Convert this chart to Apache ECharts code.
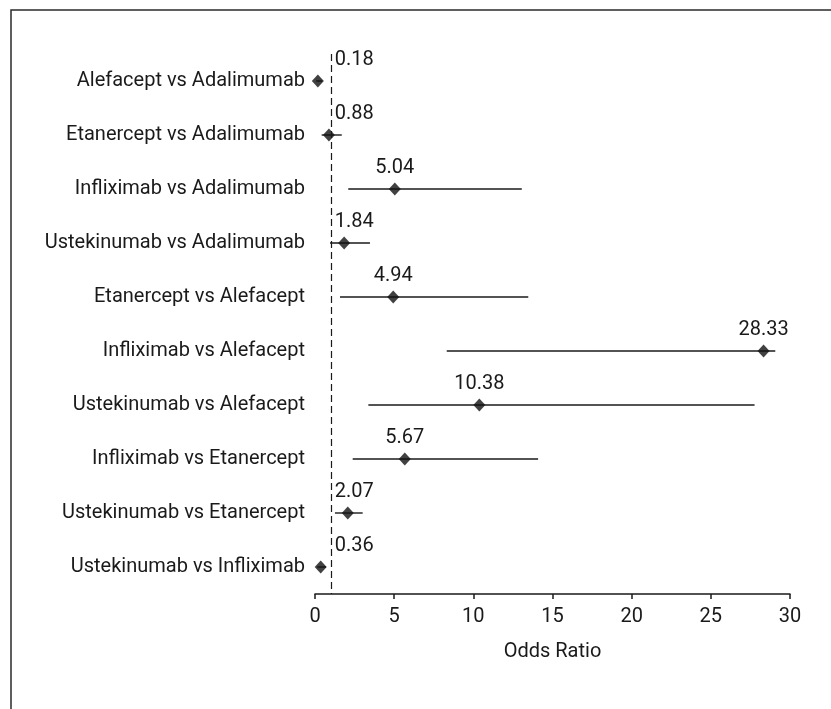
<!DOCTYPE html>
<html>
<head>
<meta charset="utf-8">
<script src="https://cdn.jsdelivr.net/npm/echarts@6/dist/echarts.min.js"></script>
<style>
  html, body { margin: 0; padding: 0; background: #ffffff; }
  #chart { width: 831px; height: 709px; }
</style>
</head>
<body>
<div id="chart"></div>
<script>
// ---- data ----
const comparisons = [
  'Alefacept vs Adalimumab',
  'Etanercept vs Adalimumab',
  'Infliximab vs Adalimumab',
  'Ustekinumab vs Adalimumab',
  'Etanercept vs Alefacept',
  'Infliximab vs Alefacept',
  'Ustekinumab vs Alefacept',
  'Infliximab vs Etanercept',
  'Ustekinumab vs Etanercept',
  'Ustekinumab vs Infliximab'
];
const oddsRatios = [0.18, 0.88, 5.04, 1.84, 4.94, 28.33, 10.38, 5.67, 2.07, 0.36];
const ciLower    = [0.08, 0.42, 2.10, 0.95, 1.58, 8.32, 3.37, 2.38, 1.26, 0.15];
const ciUpper    = [0.45, 1.69, 13.06, 3.47, 13.47, 29.07, 27.76, 14.09, 3.01, 0.70];
const valueLabels = ['0.18', '0.88', '5.04', '1.84', '4.94', '28.33', '10.38', '5.67', '2.07', '0.36'];
const xTicks = [0, 5, 10, 15, 20, 25, 30];
const referenceLine = 1;
const xAxisName = 'Odds Ratio';

// ---- chart ----
const FONT = "Roboto, 'Liberation Sans', sans-serif";
const FS = 20;
const chart = echarts.init(document.getElementById('chart'), null, { renderer: 'canvas' });

const ciData = comparisons.map((c, i) => [i, ciLower[i], ciUpper[i], oddsRatios[i]]);
const pointData = comparisons.map((c, i) => [oddsRatios[i], i]);

const measureCtx = document.createElement('canvas').getContext('2d');
function measure(text, size) {
  measureCtx.font = size + 'px ' + FONT;
  return measureCtx.measureText(text).width;
}

function renderCI(params, api) {
  const i = api.value(0);
  const lo = api.coord([api.value(1), i]);
  const hi = api.coord([api.value(2), i]);
  const pt = api.coord([api.value(3), i]);
  const ref = api.coord([referenceLine, i]);
  const label = valueLabels[params.dataIndex];
  const w = measure(label, FS);
  const minLeft = ref[0] + 4;
  let align = 'center';
  let tx = pt[0];
  if (pt[0] - w / 2 < minLeft) { align = 'left'; tx = minLeft; }
  return {
    type: 'group',
    children: [
      {
        type: 'line',
        shape: { x1: lo[0], y1: lo[1], x2: hi[0], y2: hi[1] },
        style: { stroke: '#1a1a1a', lineWidth: 1.4 }
      },
      {
        type: 'text',
        style: {
          text: label,
          x: tx,
          y: pt[1] - 21,
          align: align,
          verticalAlign: 'middle',
          fontSize: FS,
          fontFamily: FONT,
          fill: '#1a1a1a'
        }
      }
    ]
  };
}

chart.setOption({
  backgroundColor: '#ffffff',
  animation: false,
  textStyle: { fontFamily: FONT },
  graphic: [{
    type: 'rect',
    shape: { x: 11, y: 10, width: 900, height: 800 },
    style: { fill: 'none', stroke: '#2a2a2a', lineWidth: 1.5 },
    z: 100
  }],
  grid: { left: 315, right: 41, top: 54, bottom: 115, containLabel: false },
  xAxis: {
    type: 'value',
    min: xTicks[0],
    max: xTicks[xTicks.length - 1],
    interval: xTicks[1] - xTicks[0],
    splitLine: { show: false },
    axisLine: { show: true, lineStyle: { color: '#1a1a1a', width: 1.5 } },
    axisTick: { show: true, length: 5, lineStyle: { color: '#1a1a1a', width: 1.5 } },
    axisLabel: { fontSize: FS, color: '#1a1a1a', margin: 13, fontFamily: FONT },
    name: xAxisName,
    nameLocation: 'middle',
    nameGap: 48,
    nameTextStyle: { fontSize: FS, color: '#1a1a1a', fontFamily: FONT }
  },
  yAxis: {
    type: 'category',
    data: comparisons,
    inverse: true,
    axisLine: { show: false },
    axisTick: { show: false },
    splitLine: { show: false },
    axisLabel: { fontSize: FS, color: '#1a1a1a', margin: 10, fontFamily: FONT }
  },
  series: [
    {
      type: 'custom',
      renderItem: renderCI,
      data: ciData,
      encode: { y: 0, x: [1, 2, 3] },
      z: 2
    },
    {
      type: 'scatter',
      data: pointData,
      symbol: 'diamond',
      symbolSize: [12, 13],
      itemStyle: { color: '#111111' },
      z: 3,
      markLine: {
        silent: true,
        symbol: 'none',
        label: { show: false },
        lineStyle: { color: '#1a1a1a', type: [7, 4], width: 1.2 },
        data: [{ xAxis: referenceLine }]
      }
    }
  ]
});
</script>
</body>
</html>
